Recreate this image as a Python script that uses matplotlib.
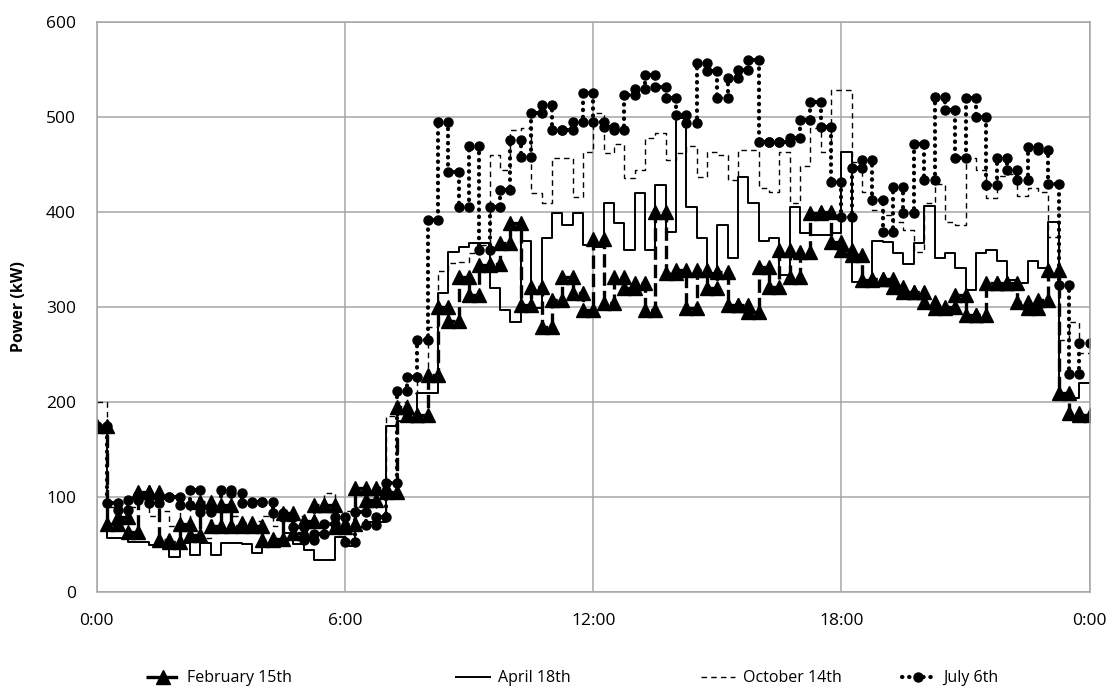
import numpy as np
import matplotlib.pyplot as plt

plt.rcParams['font.family'] = ['Open Sans', 'DejaVu Sans']

# 15-minute average demand, 96 intervals per day (kW)
feb_15 = [175, 72, 79, 63, 105, 105, 55, 53, 72, 60, 95, 70, 92, 70, 73, 69,
          55, 56, 83, 62, 75, 92, 92, 68, 72, 110, 97, 110, 105, 195, 186, 186,
          228, 300, 285, 332, 313, 344, 345, 367, 388, 302, 321, 279, 307, 332, 315, 297,
          372, 304, 332, 320, 325, 297, 400, 336, 339, 299, 339, 320, 337, 302, 302, 295,
          342, 321, 360, 332, 358, 399, 400, 368, 360, 355, 328, 330, 330, 321, 316, 316,
          305, 299, 300, 313, 292, 292, 325, 325, 325, 305, 299, 307, 339, 210, 188, 186]

apr_18 = [175, 57, 57, 53, 53, 49, 49, 37, 52, 39, 52, 39, 52, 52, 51, 41,
          51, 51, 62, 51, 44, 34, 34, 58, 48, 68, 74, 74, 175, 180, 180, 210,
          210, 315, 358, 363, 367, 367, 320, 297, 284, 370, 299, 373, 399, 386, 399, 365,
          363, 410, 388, 360, 420, 360, 428, 379, 499, 405, 373, 336, 386, 352, 437, 410,
          370, 373, 334, 405, 378, 376, 376, 378, 463, 326, 326, 370, 368, 357, 345, 367,
          406, 352, 357, 341, 318, 357, 360, 348, 328, 325, 348, 341, 389, 204, 204, 220]

oct_14 = [200, 90, 85, 90, 95, 80, 85, 70, 90, 57, 57, 70, 85, 80, 65, 75,
          80, 70, 75, 80, 70, 90, 104, 80, 85, 90, 95, 80, 185, 200, 210, 222,
          279, 338, 346, 347, 357, 365, 460, 444, 486, 488, 420, 409, 457, 457, 416, 463,
          504, 462, 472, 436, 444, 478, 483, 455, 462, 470, 437, 463, 460, 434, 465, 465,
          425, 421, 463, 409, 448, 488, 463, 528, 528, 453, 421, 402, 397, 390, 381, 358,
          410, 430, 389, 386, 457, 444, 415, 438, 440, 417, 425, 421, 374, 265, 284, 252]

jul_6 = [175, 94, 86, 97, 102, 94, 100, 100, 92, 107, 84, 88, 107, 104, 94, 95,
         95, 83, 79, 68, 55, 61, 72, 79, 53, 84, 71, 79, 115, 212, 226, 265,
         392, 495, 442, 405, 470, 360, 405, 423, 476, 458, 504, 513, 486, 486, 495, 525,
         495, 490, 486, 523, 530, 544, 532, 520, 502, 494, 557, 548, 520, 541, 550, 560,
         474, 474, 474, 478, 497, 516, 490, 432, 395, 446, 455, 413, 379, 426, 399, 472,
         434, 521, 507, 457, 520, 500, 428, 457, 444, 434, 468, 465, 430, 323, 230, 262]

labels = ['February 15th', 'April 18th', 'October 14th', 'July 6th']


def steps(vals):
    # each interval drawn as a flat segment from its start to its end
    t = np.arange(len(vals)) * 0.25
    x = np.column_stack([t, t + 0.25]).ravel()
    y = np.repeat(vals, 2)
    return x, y


fig = plt.figure(figsize=(11.13, 6.88), dpi=100)
ax = fig.add_axes([0.087, 0.1395, 0.892, 0.8285])

styles = [
    dict(color='black', lw=2.4, ls=(0, (4, 1.5)), marker='^', ms=10),
    dict(color='black', lw=1.4, ls='-'),
    dict(color='black', lw=1.0, ls=(0, (4, 3))),
    dict(color='black', lw=3.0, ls=(0, (0.1, 1.6)), dash_capstyle='round',
         marker='o', ms=6.5),
]

handles = []
for vals, st in zip([feb_15, apr_18, oct_14, jul_6], styles):
    x, y = steps(vals)
    h, = ax.plot(x, y, **st)
    handles.append(h)

ax.set_xlim(0, 24)
ax.set_ylim(0, 600)
ax.set_xticks([0, 6, 12, 18, 24])
ax.set_xticklabels(['0:00', '6:00', '12:00', '18:00', '0:00'])
ax.set_yticks(range(0, 601, 100))
ax.grid(True, color='#a6a6a6', lw=1.1)
ax.set_axisbelow(True)
for s in ax.spines.values():
    s.set_color('#a6a6a6')
    s.set_linewidth(1.1)
ax.tick_params(length=0, labelsize=12.5)
ax.tick_params(axis='x', pad=15)
ax.tick_params(axis='y', pad=15)
ax.set_ylabel('Power (kW)', fontsize=11.5, fontweight='bold', labelpad=14)

# legend entries laid out along the bottom
legend_x = [0.131, 0.410, 0.630, 0.810]
for h, lab, lx in zip(handles, labels, legend_x):
    fig.legend([h], [lab], loc='center left', bbox_to_anchor=(lx, 0.014),
               frameon=False, fontsize=11.5, handlelength=2.1, handletextpad=0.5,
               borderaxespad=0, borderpad=0)

fig.savefig('out.png', dpi=100)
